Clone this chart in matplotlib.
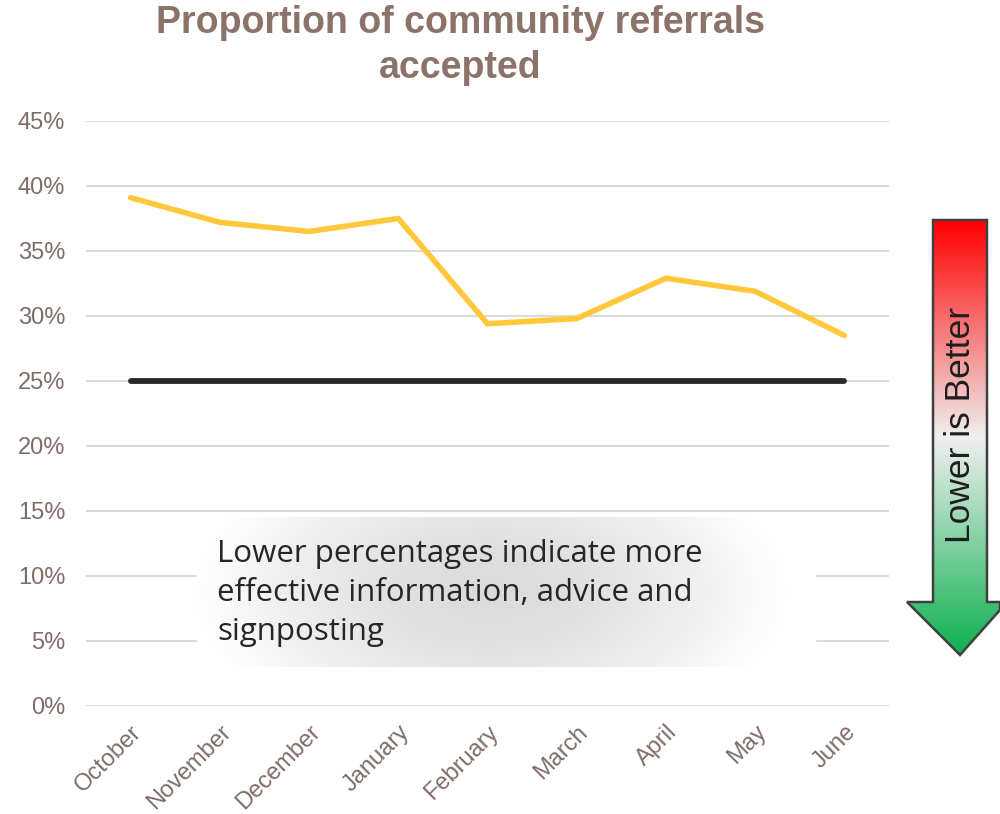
import numpy as np
import matplotlib
matplotlib.use('Agg')
import matplotlib.pyplot as plt
from matplotlib.patches import Polygon, Rectangle
from matplotlib.ticker import PercentFormatter

months = ["October", "November", "December", "January", "February",
          "March", "April", "May", "June"]
accepted = [0.391, 0.372, 0.365, 0.375, 0.294, 0.298, 0.329, 0.319, 0.285]
target = [0.25] * len(months)

title_col = "#8C7369"
tick_col = "#7F6C66"

fig = plt.figure(figsize=(10, 8.14), dpi=100)
ax = fig.add_axes([0.086, 0.1327, 0.803, 0.7187])

x = np.arange(len(months))
ax.plot(x, target, color="#262a28", lw=4.2, solid_capstyle="round", zorder=3)
ax.plot(x, accepted, color="#FFC83A", lw=4.0, solid_capstyle="round", zorder=4)

ax.set_xlim(-0.5, len(months) - 0.5)
ax.set_ylim(0, 0.45)
ax.set_yticks(np.arange(0, 0.451, 0.05))
ax.yaxis.set_major_formatter(PercentFormatter(1.0, decimals=0))
ax.grid(axis="y", color="#DEDAD8", lw=1.5, zorder=0)
ax.set_axisbelow(True)
for s in ax.spines.values():
    s.set_visible(False)
ax.tick_params(length=0, colors=tick_col, labelsize=17)
ax.tick_params(axis="y", pad=15)
ax.tick_params(axis="x", pad=11)
ax.set_xticks(x)
ax.set_xticklabels(months, rotation=45, ha="right", rotation_mode="anchor",
                   fontsize=17, color=tick_col)
for lab in ax.get_yticklabels() + ax.get_xticklabels():
    lab.set_fontfamily("Liberation Sans")

fig.text(0.46, 0.944, "Proportion of community referrals\naccepted",
         ha="center", va="center", fontsize=27, fontweight="bold",
         color=title_col, family="Liberation Sans", linespacing=1.35)

# overlay axes in pixel coords for annotations
ov = fig.add_axes([0, 0, 1, 1])
ov.set_xlim(0, 1000)
ov.set_ylim(814, 0)
ov.axis("off")

# gray radial-gradient text box
bx0, bx1, by0, by1 = 197, 815, 517, 667
gx, gy = np.meshgrid(np.linspace(-1, 1, 300), np.linspace(-1, 1, 80))
r = np.sqrt(((gx + 0.05) / 1.0) ** 2 + (gy / 2.2) ** 2)
shade = np.clip(0.86 + 0.15 * r ** 1.6, 0, 1)
ov.add_patch(Rectangle((bx0, by0), bx1 - bx0, by1 - by0, color="white", zorder=1))
ov.imshow(np.dstack([shade] * 3), extent=(bx0, bx1, by1, by0),
          aspect="auto", zorder=2, interpolation="bilinear")
ov.text(217, 593, "Lower percentages indicate more\neffective information, advice and\nsignposting",
        ha="left", va="center", fontsize=22.5, color="#262626",
        family="Open Sans", linespacing=1.38, zorder=3)

# gradient arrow
arrow_pts = [(933, 220), (987, 220), (987, 602), (1000, 602), (1000, 610),
             (960, 655), (907, 602), (933, 602)]
poly = Polygon(arrow_pts, closed=True, facecolor="none", edgecolor="#404040",
               lw=1.8, zorder=6)
cols = []
for t in np.linspace(0, 1, 200):
    if t < 0.5:
        u = t / 0.5
        c = np.array([1.0, 0.0, 0.0]) * (1 - u) + np.array([0.94, 0.94, 0.94]) * u
    else:
        u = (t - 0.5) / 0.5
        c = np.array([0.94, 0.94, 0.94]) * (1 - u) + np.array([0.05, 0.69, 0.31]) * u
    cols.append(c)
grad = np.array(cols)[:, None, :]
im = ov.imshow(grad, extent=(905, 1002, 655, 220), aspect="auto", zorder=5,
               interpolation="bilinear")
clip = Polygon(arrow_pts, closed=True, transform=ov.transData)
im.set_clip_path(clip)
ov.add_patch(poly)
ov.set_xlim(0, 1000)
ov.set_ylim(814, 0)
ov.text(961, 425, "Lower is Better", rotation=90, ha="center", va="center",
        fontsize=25.5, color="#1e1e1e", family="Liberation Sans", zorder=7)

fig.savefig("out.png", dpi=100)
